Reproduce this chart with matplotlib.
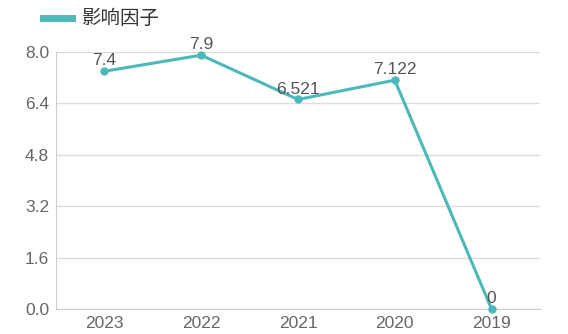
import matplotlib.pyplot as plt
from matplotlib.lines import Line2D

plt.rcParams['font.family'] = ['Noto Sans CJK SC', 'DejaVu Sans']

years = ["2023", "2022", "2021", "2020", "2019"]
values = [7.4, 7.9, 6.521, 7.122, 0]
labels = ["7.4", "7.9", "6.521", "7.122", "0"]
yticks = [0.0, 1.6, 3.2, 4.8, 6.4, 8.0]

color = "#4cb8b9"
grey = "#666666"

fig = plt.figure(figsize=(5.68, 3.34), dpi=100)
ax = fig.add_axes([0.0986, 0.0749, 0.852, 0.7695])

x = list(range(len(years)))
ax.plot(x, values, color=color, lw=2.2, marker="o", ms=5,
        clip_on=False, zorder=3)
for xi, v, t in zip(x, values, labels):
    ax.annotate(t, (xi, v), xytext=(0, 2), textcoords="offset points",
                ha="center", va="bottom", fontsize=12.5, color="#555555",
                family=["Liberation Sans", "DejaVu Sans"])

ax.set_xlim(-0.5, len(years) - 0.5)
ax.set_ylim(0, 8.0)
ax.set_xticks(x)
ax.set_xticklabels(years)
ax.set_yticks(yticks)
ax.set_yticklabels([f"{t:.1f}" for t in yticks])
ax.tick_params(length=0, labelsize=12.5, colors=grey, pad=5)
for lab in ax.get_xticklabels() + ax.get_yticklabels():
    lab.set_family(["Liberation Sans", "DejaVu Sans"])
ax.grid(axis="y", color="#dddddd", lw=1)
ax.set_axisbelow(True)
for s in ["top", "right"]:
    ax.spines[s].set_visible(False)
for s in ["left", "bottom"]:
    ax.spines[s].set_color("#cccccc")

handle = Line2D([], [], color=color, lw=5)
fig.legend([handle], ["影响因子"], loc="upper left", bbox_to_anchor=(0.075, 0.975),
           frameon=False, fontsize=14, handlelength=1.5, handletextpad=0.5,
           borderpad=0, borderaxespad=0, labelcolor="#333333")

fig.savefig("out.png", dpi=100)
